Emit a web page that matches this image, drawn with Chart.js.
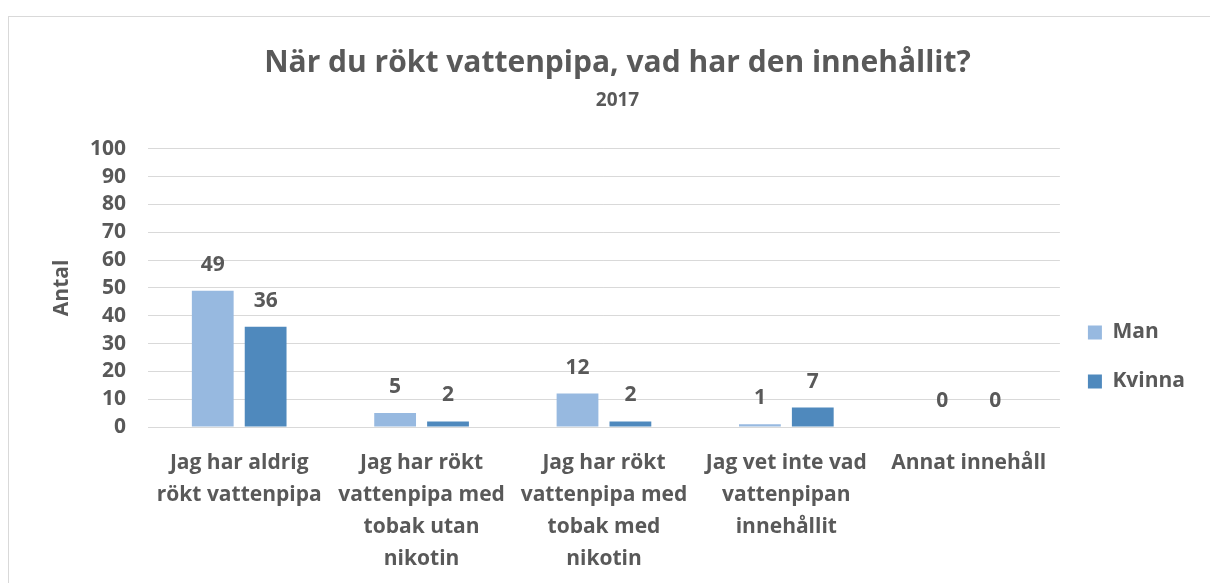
<!DOCTYPE html>
<html>
<head>
<meta charset="utf-8">
<script src="https://cdn.jsdelivr.net/npm/chart.js@4"></script>
<style>
  html, body { margin: 0; padding: 0; background: #fff; }
  #ram { position: absolute; left: 8px; top: 16px; width: 1210px; height: 600px; border: 1.5px solid #d9d9d9; box-sizing: border-box; }
  #wrap { position: absolute; left: 0; top: 0; width: 1210px; height: 583px; }
</style>
</head>
<body>
<div id="ram"></div>
<div id="wrap"><canvas id="grafik"></canvas></div>
<script>
// Data
var kategorier = [
    ["Jag har aldrig", "rökt vattenpipa"],
    ["Jag har rökt", "vattenpipa med", "tobak utan", "nikotin"],
    ["Jag har rökt", "vattenpipa med", "tobak med", "nikotin"],
    ["Jag vet inte vad", "vattenpipan", "innehållit"],
    ["Annat innehåll"]
];
var man = [49, 5, 12, 1, 0];
var kvinna = [36, 2, 2, 7, 0];
var yTicks = [0, 10, 20, 30, 40, 50, 60, 70, 80, 90, 100];

var textFarg = '#595959';
var typsnitt = '"Open Sans", Lato, sans-serif';

// etiketter ovanför staplarna
var stapelEtiketter = {
    id: 'stapelEtiketter',
    afterDatasetsDraw: function(chart){
        var ctx = chart.ctx;
        ctx.save();
        ctx.font = 'bold 21px ' + typsnitt;
        ctx.fillStyle = textFarg;
        ctx.textAlign = 'center';
        ctx.textBaseline = 'middle';
        chart.data.datasets.forEach(function(ds, i){
            chart.getDatasetMeta(i).data.forEach(function(bar, j){
                ctx.fillText(ds.data[j], bar.x, bar.y - 26);
            });
        });
        ctx.restore();
    }
};

var config = {
    type: 'bar',
    data: {
        labels: kategorier,
        datasets: [{
            label: 'Man',
            data: man,
            backgroundColor: '#97b9e0',
            barPercentage: 0.79,
            categoryPercentage: 0.58
        }, {
            label: 'Kvinna',
            data: kvinna,
            backgroundColor: '#4f89bd',
            barPercentage: 0.79,
            categoryPercentage: 0.58
        }]
    },
    options: {
        responsive: true,
        maintainAspectRatio: false,
        animation: false,
        layout: { padding: { left: 40, right: 15, top: 0, bottom: 0 } },
        plugins: {
            title: {
                display: true,
                text: 'När du rökt vattenpipa, vad har den innehållit?',
                color: textFarg,
                font: { family: typsnitt, size: 30, weight: 'bold', lineHeight: 1.2 },
                padding: { top: 45, bottom: 8 }
            },
            subtitle: {
                display: true,
                text: '2017',
                color: textFarg,
                font: { family: typsnitt, size: 19, weight: 'bold', lineHeight: 1.2 },
                padding: { top: 0, bottom: 37 }
            },
            legend: {
                position: 'right',
                title: { display: true, text: ' ', font: { size: 10 }, padding: { top: 119, bottom: 0 } },
                labels: {
                    color: textFarg,
                    font: { family: typsnitt, size: 21, weight: 'bold' },
                    boxWidth: 14,
                    boxHeight: 14,
                    padding: 28
                }
            },
            tooltip: { enabled: false }
        },
        scales: {
            x: {
                grid: { display: false, drawTicks: false },
                border: { color: '#d9d9d9' },
                ticks: {
                    color: textFarg,
                    font: { family: typsnitt, size: 21, weight: 'bold', lineHeight: 1.52 },
                    padding: 20,
                    maxRotation: 0,
                    autoSkip: false
                },
                afterFit: function(axis){ axis.height = 156; }
            },
            y: {
                min: 0,
                max: 100,
                afterBuildTicks: function(axis){
                    axis.ticks = yTicks.map(function(v){ return { value: v }; });
                },
                grid: { color: '#d9d9d9', drawTicks: false },
                border: { display: false },
                ticks: {
                    color: textFarg,
                    font: { family: typsnitt, size: 21, weight: 'bold' },
                    padding: 22,
                    autoSkip: false
                },
                title: {
                    display: true,
                    text: 'Antal',
                    color: textFarg,
                    font: { family: typsnitt, size: 21, weight: 'bold' },
                    padding: { top: 9, bottom: 0 }
                },
                afterFit: function(axis){ axis.width = 108; }
            }
        }
    },
    plugins: [stapelEtiketter]
};

var ctx = new Chart(document.getElementById('grafik'), config);
</script>
</body>
</html>
